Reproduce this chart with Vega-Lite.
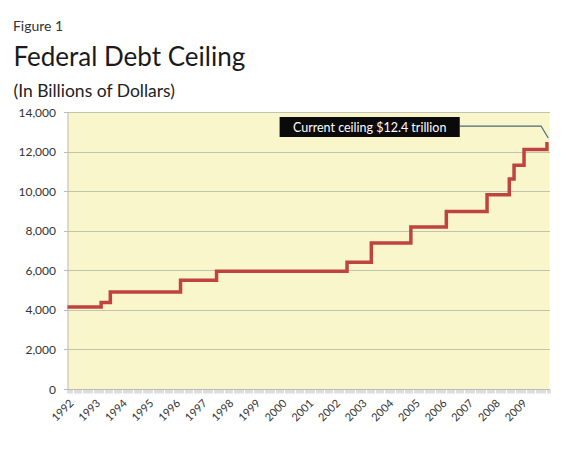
{
  "$schema": "https://vega.github.io/schema/vega-lite/v6.json",
  "background": "white",
  "padding": {"left": 12.5, "top": 19, "right": 10, "bottom": 5},
  "title": {"text": "Figure 1", "anchor": "start", "font": "Lato", "fontSize": 14, "fontWeight": "normal", "color": "#333333", "offset": 11, "dx": -0.5},
  "datasets": {
    "ceiling": [
      {"date": "1992-01-01", "value": 4145},
      {"date": "1993-04-06", "value": 4370},
      {"date": "1993-08-10", "value": 4900},
      {"date": "1996-03-29", "value": 5500},
      {"date": "1997-08-05", "value": 5950},
      {"date": "2002-06-28", "value": 6400},
      {"date": "2003-05-27", "value": 7384},
      {"date": "2004-11-19", "value": 8184},
      {"date": "2006-03-20", "value": 8965},
      {"date": "2007-09-29", "value": 9815},
      {"date": "2008-07-30", "value": 10615},
      {"date": "2008-10-03", "value": 11315},
      {"date": "2009-02-17", "value": 12104},
      {"date": "2009-12-28", "value": 12394},
      {"date": "2010-01-20", "value": 12394}
    ],
    "notebox": [
      {"date": "1999-12-17", "date2": "2006-09-20", "value": 12736, "value2": 13747}
    ],
    "notetext": [
      {"date": "2003-05-04", "value": 13200, "label": "Current ceiling $12.4 trillion"}
    ],
    "leader": [
      {"date": "2006-09-20", "value": 13290, "order": 1},
      {"date": "2009-10-08", "value": 13290, "order": 2},
      {"date": "2010-01-15", "value": 12686, "order": 3}
    ]
  },
  "vconcat": [
    {
      "width": 482,
      "height": 277,
      "title": {
        "text": "Federal Debt Ceiling",
        "subtitle": "(In Billions of Dollars)",
        "anchor": "start",
        "frame": "bounds",
        "dx": -4.5,
        "font": "Lato",
        "fontSize": 26,
        "fontWeight": "normal",
        "color": "#1a1a1a",
        "subtitleFont": "Lato",
        "subtitleFontSize": 17.5,
        "subtitleColor": "#222222",
        "subtitlePadding": 12,
        "offset": 6
      },
      "encoding": {
        "x": {
          "field": "date",
          "type": "temporal",
          "scale": {"type": "utc", "domain": [{"year": 1992, "month": 1, "date": 1, "utc": true}, {"year": 2010, "month": 2, "date": 1, "utc": true}]},
          "axis": {
            "title": null,
            "tickCount": {"interval": "month", "step": 1},
            "labelExpr": "utcmonth(datum.value) == 0 && utcyear(datum.value) < 2010 ? utcFormat(datum.value, '%Y') : ''",
            "labelOverlap": false,
            "labelFlush": false,
            "labelAngle": -45,
            "labelFont": "Lato",
            "labelFontSize": 11,
            "labelColor": "#333333",
            "labelPadding": 4,
            "tickSize": 4,
            "tickColor": "#bbbbbb",
            "domainColor": "#bbbbbb",
            "grid": false
          }
        },
        "y": {
          "field": "value",
          "type": "quantitative",
          "scale": {"domain": [0, 14000], "nice": false},
          "axis": {
            "title": null,
            "values": [0, 2000, 4000, 6000, 8000, 10000, 12000, 14000],
            "labelOverlap": false,
            "format": ",d",
            "labelFont": "Lato",
            "labelFontSize": 12,
            "labelColor": "#333333",
            "labelPadding": 8,
            "tickSize": 4,
            "tickColor": "#bbbbbb",
            "domainColor": "#bbbbbb",
            "grid": true,
            "gridColor": "#c4c3ad",
            "gridWidth": 1
          }
        }
      },
      "layer": [
        {
          "data": {"name": "ceiling"},
          "mark": {"type": "line", "interpolate": "step-after", "color": "#bf4440", "strokeWidth": 3.5}
        },
        {
          "data": {"name": "leader"},
          "mark": {"type": "line", "color": "#4a6878", "strokeWidth": 1.2, "clip": false},
          "encoding": {
            "order": {"field": "order", "type": "quantitative"}
          }
        },
        {
          "data": {"name": "notebox"},
          "mark": {"type": "rect", "color": "#0a0a0a"},
          "encoding": {
            "x2": {"field": "date2"},
            "y2": {"field": "value2"}
          }
        },
        {
          "data": {"name": "notetext"},
          "mark": {"type": "text", "color": "white", "font": "Lato", "fontSize": 12.5, "align": "center", "baseline": "middle"},
          "encoding": {
            "text": {"field": "label"}
          }
        }
      ]
    }
  ],
  "config": {
    "view": {"fill": "#f9f6cb", "stroke": null},
    "concat": {"spacing": 0}
  }
}
